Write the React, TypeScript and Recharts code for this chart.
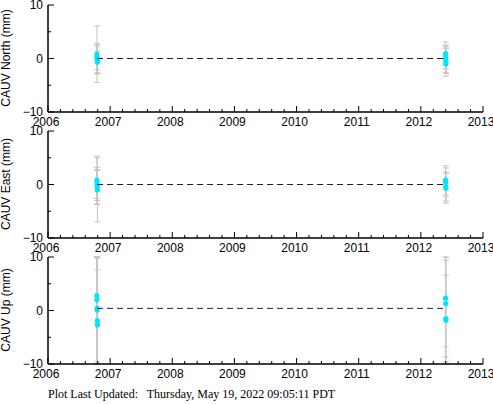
import { ScatterChart, Scatter, XAxis, YAxis, ErrorBar } from "recharts";

// observation epochs (decimal years), values and 1-sigma errors in mm
const northObs = [
  { t: 2006.787, v: 0.8, e: 5.3 },
  { t: 2006.789, v: 0.3, e: 2.4 },
  { t: 2006.791, v: 0.0, e: 2.7 },
  { t: 2006.793, v: -0.3, e: 2.6 },
  { t: 2006.795, v: -0.7, e: 2.1 },
  { t: 2012.397, v: 0.9, e: 2.2 },
  { t: 2012.399, v: 0.3, e: 2.2 },
  { t: 2012.401, v: -0.2, e: 2.4 },
  { t: 2012.403, v: -0.7, e: 2.6 },
  { t: 2012.405, v: -1.0, e: 1.8 },
];

const eastObs = [
  { t: 2006.787, v: 0.8, e: 4.5 },
  { t: 2006.789, v: 0.3, e: 2.9 },
  { t: 2006.791, v: -0.1, e: 2.9 },
  { t: 2006.793, v: -0.5, e: 3.1 },
  { t: 2006.795, v: -1.0, e: 6.0 },
  { t: 2012.398, v: 0.8, e: 2.7 },
  { t: 2012.400, v: 0.4, e: 2.7 },
  { t: 2012.402, v: -0.4, e: 2.7 },
  { t: 2012.404, v: -0.7, e: 2.8 },
];

const upObs = [
  { t: 2006.786, v: 2.8, e: 14 },
  { t: 2006.788, v: 2.0, e: 12 },
  { t: 2006.790, v: 0.4, e: 13 },
  { t: 2006.792, v: 0.1, e: 9.7 },
  { t: 2006.794, v: -1.9, e: 12 },
  { t: 2006.796, v: -2.7, e: 10.3 },
  { t: 2012.398, v: 2.3, e: 11 },
  { t: 2012.400, v: 1.3, e: 8.1 },
  { t: 2012.402, v: -1.5, e: 8.1 },
  { t: 2012.404, v: -1.8, e: 12 },
];

// linear fits (start / end)
const fitNorth = [{ t: 2006.79, v: 0.0 }, { t: 2012.4, v: 0.0 }];
const fitEast = [{ t: 2006.79, v: 0.0 }, { t: 2012.4, v: 0.0 }];
const fitUp = [{ t: 2006.79, v: 0.4 }, { t: 2012.4, v: 0.4 }];

const yearTicks = [2006, 2007, 2008, 2009, 2010, 2011, 2012, 2013];
const yTicks = [-10, -5, 0, 5, 10];
const xTicks = yearTicks
  .slice(0, -1)
  .flatMap((y) => [0, 0.2, 0.4, 0.6, 0.8].map((f) => y + f))
  .concat([2013]);

const panels = [
  { label: "CAUV North (mm)", obs: northObs, fit: fitNorth },
  { label: "CAUV East (mm)", obs: eastObs, fit: fitEast },
  { label: "CAUV Up (mm)", obs: upObs, fit: fitUp },
];

const Y_MIN = -10;
const Y_MAX = 10;
const SANS = '"Liberation Sans", Arial, Helvetica, sans-serif';
const MAJOR = 6;
const MINOR = 3;
const isYear = (v: number) => Math.abs(v - Math.round(v)) < 1e-6;
const isMajorY = (v: number) => v % 10 === 0;
const fmt = (v: number) => (v < 0 ? "\u2212" + Math.abs(v) : String(v));

// error bars stop at the frame, like the clipped ones in the original plot
const clippedErr = (d: any) => [Math.min(d.e, d.v - Y_MIN), Math.min(d.e, Y_MAX - d.v)];

function BottomTick({ x, y, payload }: any) {
  const major = isYear(payload.value);
  return (
    <g>
      <line x1={x} x2={x} y1={y} y2={y - (major ? MAJOR : MINOR)} stroke="#000" />
      {major ? (
        <text x={x - 2} y={y + 14} textAnchor="middle" fontSize={12} fontFamily={SANS} fill="#000">
          {Math.round(payload.value)}
        </text>
      ) : null}
    </g>
  );
}

function TopTick({ x, y, payload }: any) {
  const major = isYear(payload.value);
  return <line x1={x} x2={x} y1={y} y2={y + (major ? MAJOR : MINOR)} stroke="#000" />;
}

function LeftTick({ x, y, payload }: any) {
  const major = isMajorY(payload.value);
  return (
    <g>
      <line x1={x} x2={x + (major ? MAJOR : MINOR)} y1={y} y2={y} stroke="#000" />
      {major ? (
        <text x={x - 5} y={y + 4} textAnchor="end" fontSize={12} fontFamily={SANS} fill="#000">
          {fmt(payload.value)}
        </text>
      ) : null}
    </g>
  );
}

function RightTick({ x, y, payload }: any) {
  const major = isMajorY(payload.value);
  return <line x1={x} x2={x - (major ? MAJOR : MINOR)} y1={y} y2={y} stroke="#000" />;
}

const Dot = (props: any) => <circle cx={props.cx} cy={props.cy} r={2.6} fill="#00e4ff" />;
const NoDot = () => <g />;

const frame = { stroke: "#000", strokeWidth: 1.5 };

export default function App() {
  return (
    <div style={{ position: "absolute", left: 0, top: 0, width: 493, height: 404, background: "#fff" }}>
      {panels.map((p, i) => (
        <div key={p.label} style={{ position: "absolute", left: 0, top: i * 126, width: 493, height: 140 }}>
          <ScatterChart width={493} height={140} margin={{ top: 5, right: 10, bottom: 14, left: 0 }}>
            <XAxis
              dataKey="t"
              type="number"
              domain={[2006, 2013]}
              ticks={xTicks}
              interval={0}
              tickSize={0}
              tickMargin={0}
              height={14}
              axisLine={frame}
              tick={<BottomTick />}
              allowDataOverflow
            />
            <XAxis
              xAxisId="top"
              orientation="top"
              type="number"
              domain={[2006, 2013]}
              ticks={xTicks}
              interval={0}
              tickSize={0}
              tickMargin={0}
              height={0}
              axisLine={frame}
              tick={<TopTick />}
            />
            <YAxis
              dataKey="v"
              type="number"
              domain={[Y_MIN, Y_MAX]}
              ticks={yTicks}
              interval={0}
              tickSize={0}
              tickMargin={0}
              width={48}
              axisLine={frame}
              tick={<LeftTick />}
              allowDataOverflow
            />
            <YAxis
              yAxisId="right"
              orientation="right"
              type="number"
              domain={[Y_MIN, Y_MAX]}
              ticks={yTicks}
              interval={0}
              tickSize={0}
              tickMargin={0}
              width={0}
              axisLine={frame}
              tick={<RightTick />}
            />
            <Scatter data={p.obs} shape={<Dot />} isAnimationActive={false}>
              <ErrorBar dataKey={clippedErr} direction="y" width={3} stroke="#c4c4c4" strokeWidth={1} />
            </Scatter>
            <Scatter
              data={p.fit}
              shape={<NoDot />}
              line={{ stroke: "#222", strokeWidth: 1, strokeDasharray: "6 4" }}
              isAnimationActive={false}
            />
          </ScatterChart>
          <div
            style={{
              position: "absolute",
              left: 6,
              top: 58,
              fontFamily: SANS,
              fontSize: 12,
              whiteSpace: "nowrap",
              transform: "translate(-50%, -50%) rotate(-90deg)",
            }}
          >
            {p.label}
          </div>
        </div>
      ))}
      <div
        style={{
          position: "absolute",
          left: 48,
          top: 387,
          fontFamily: '"Liberation Serif", "Times New Roman", serif',
          fontSize: 12,
          whiteSpace: "pre",
        }}
      >
        {"Plot Last Updated:   Thursday, May 19, 2022 09:05:11 PDT"}
      </div>
    </div>
  );
}
